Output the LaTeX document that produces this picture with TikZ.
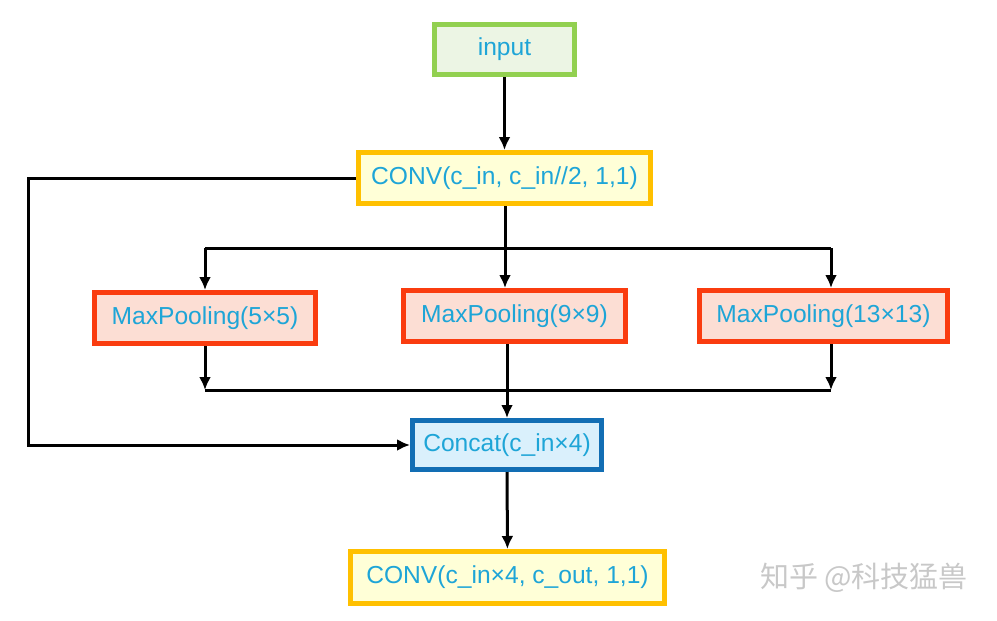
\documentclass[tikz,border=0pt]{standalone}
\usepackage{fontspec}
\setmainfont{Liberation Sans}
\newfontfamily\cjkfont{Noto Sans CJK SC}
\usepackage{tikz}
\usetikzlibrary{arrows.meta}
\definecolor{textcyan}{RGB}{30, 165, 215}
\definecolor{inputgreen}{RGB}{146, 208, 80}
\definecolor{inputbg}{RGB}{236, 245, 228}
\definecolor{convyellow}{RGB}{255, 192, 0}
\definecolor{convbg}{RGB}{255, 255, 215}
\definecolor{poolred}{RGB}{250, 60, 15}
\definecolor{poolbg}{RGB}{252, 222, 212}
\definecolor{catblue}{RGB}{18, 110, 180}
\definecolor{catbg}{RGB}{218, 240, 252}
\definecolor{markgray}{RGB}{200, 200, 200}

\begin{document}
\begin{tikzpicture}[x=0.5pt, y=-0.5pt,
    every node/.style={font=\fontsize{12.3}{14}\selectfont, text=textcyan, line width=2.5pt, inner sep=0pt},
    inbox/.style={draw=inputgreen, fill=inputbg, minimum width=70pt, minimum height=25pt},
    convbox/.style={draw=convyellow, fill=convbg, minimum height=25.5pt},
    poolbox/.style={draw=poolred, fill=poolbg, minimum height=25.5pt},
    catbox/.style={draw=catblue, fill=catbg, minimum width=94.5pt, minimum height=24.5pt},
    link/.style={line width=1.5pt, black},
    arr/.style={link, -{Latex[length=6.5pt, width=6pt]}}]
    \useasboundingbox (0,0) rectangle (997,621);

    % boxes
    \node[inbox] (input) at (504.5, 49.5) {input};
    \node[convbox, minimum width=146pt] (conv1) at (504.5, 178) {CONV(c\_in, c\_in//2, 1,1)};
    \node[poolbox, minimum width=110.5pt] (mp1) at (205, 318) {MaxPooling(5×5)};
    \node[poolbox, minimum width=111pt] (mp2) at (514.5, 316) {MaxPooling(9×9)};
    \node[poolbox, minimum width=124pt] (mp3) at (823.5, 316) {MaxPooling(13×13)};
    \node[catbox] (concat) at (507, 445) {Concat(c\_in×4)};
    \node[convbox, minimum width=157pt, minimum height=26pt] (conv2) at (507.5, 577.5) {CONV(c\_in×4, c\_out, 1,1)};

    % branch points
    \coordinate (split) at (505, 248);
    \coordinate (splitL) at (205, 248);
    \coordinate (splitR) at (831, 248);
    \coordinate (mergeL) at (205, 390);
    \coordinate (mergeR) at (831, 390);
    \coordinate (loop) at (28, 180);

    % connectors
    \draw[arr] (input) -- (conv1);
    \draw[link] (conv1.south -| split) -- (split);
    \draw[link] (splitL) -- (splitR);
    \draw[arr] (splitL) -- (mp1.north);
    \draw[arr] (split) -- (split |- mp2.north);
    \draw[arr] (splitR) -- (splitR |- mp3.north);
    \draw[arr] (mp1.south) -- (mergeL);
    \draw[arr] (mergeR |- mp3.south) -- (mergeR);
    \draw[link] (mergeL) -- (mergeR);
    \draw[arr] (mp2.south -| concat.north) -- (concat.north);
    \draw[arr] (conv1.west) -- (conv1.west -| loop) |- (concat.west);
    \draw[arr] (concat) -- (conv2);

    % watermark
    \node[text=markgray, font=\cjkfont\fontsize{14.5}{16}\selectfont] (mark) at (864, 578) {知乎 @科技猛兽};
\end{tikzpicture}
\end{document}
